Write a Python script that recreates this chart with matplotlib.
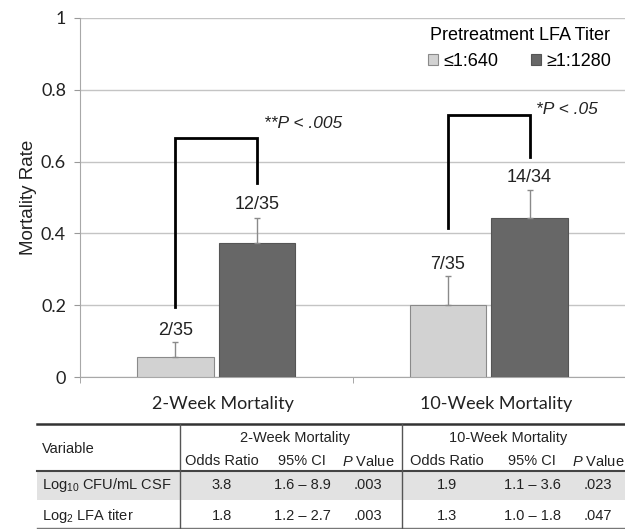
import matplotlib
matplotlib.use("Agg")
from matplotlib import pyplot as plt
from matplotlib.patches import Patch, Rectangle
import matplotlib.transforms as mtransforms
import numpy as np

plt.rcParams['font.family'] = ['Liberation Sans', 'DejaVu Sans']
plt.rcParams['mathtext.fontset'] = 'custom'
plt.rcParams['mathtext.rm'] = 'Liberation Sans'
plt.rcParams['mathtext.it'] = 'Liberation Sans:italic'

# chart data
categories = ['2-Week Mortality', '10-Week Mortality']
series_names = ['\u22641:640', '\u22651:1280']
low_titer = [0.057, 0.200]
high_titer = [0.372, 0.442]
low_err = [0.040, 0.081]
high_err = [0.072, 0.078]
low_labels = ['2/35', '7/35']
high_labels = ['12/35', '14/34']
p_labels = ['**P < .005', '*P < .05']

# table data
table_vars = [r'Log$_{10}$ CFU/mL CSF', r'Log$_{2}$ LFA titer']
or_2wk = ['3.8', '1.8']
ci_2wk = ['1.6 \u2013 8.9', '1.2 \u2013 2.7']
p_2wk = ['.003', '.003']
or_10wk = ['1.9', '1.3']
ci_10wk = ['1.1 \u2013 3.6', '1.0 \u2013 1.8']
p_10wk = ['.023', '.047']

light = '#d2d2d2'
dark = '#676767'

fig = plt.figure(figsize=(6.25, 5.29), dpi=100)

# table layer (pixel coordinates)
tax = fig.add_axes([0, 0, 1, 1], zorder=0)
tax.set_xlim(0, 625)
tax.set_ylim(529, 0)
tax.axis('off')

ax = fig.add_axes([80 / 625, 1 - 377 / 529, 545 / 625, 359 / 529], zorder=1)

x = np.arange(len(categories)) + 0.5
off, w = 0.15, 0.28
ax.bar(x - off, low_titer, w, color=light, edgecolor='#8a8a8a', lw=0.8, zorder=3)
ax.bar(x + off, high_titer, w, color=dark, edgecolor='#555555', lw=0.8, zorder=3)
ax.errorbar(x - off, low_titer, yerr=[np.zeros(2), low_err], fmt='none',
            ecolor='#8a8a8a', elinewidth=1, capsize=2, capthick=1, zorder=4)
ax.errorbar(x + off, high_titer, yerr=[np.zeros(2), high_err], fmt='none',
            ecolor='#8a8a8a', elinewidth=1, capsize=2, capthick=1, zorder=4)

for i in range(len(categories)):
    ax.text(x[i] - off, low_titer[i] + low_err[i] + 0.033, low_labels[i],
            ha='center', va='center', fontsize=13, color='#222222')
    ax.text(x[i] + off, high_titer[i] + high_err[i] + 0.036, high_labels[i],
            ha='center', va='center', fontsize=13, color='#222222')

# significance brackets
brackets = [(0.196, 0.665, 0.539), (0.415, 0.730, 0.614)]
for i, (lo, top, ro) in enumerate(brackets):
    ax.plot([x[i] - off, x[i] - off, x[i] + off, x[i] + off], [lo, top, top, ro],
            color='black', lw=2, zorder=5, solid_joinstyle='miter')
ax.text(x[0] + off + 0.025, 0.705, p_labels[0], style='italic', fontsize=12.5,
        ha='left', va='center', color='#222222')
ax.text(x[1] + off + 0.025, 0.744, p_labels[1], style='italic', fontsize=12.5,
        ha='left', va='center', color='#222222')

ax.set_xlim(0, 2)
ax.set_ylim(0, 1)
ax.set_yticks([0, 0.2, 0.4, 0.6, 0.8, 1])
ax.set_yticklabels(['0', '0.2', '0.4', '0.6', '0.8', '1'])
ax.set_xticks(x)
ax.set_xticklabels(categories)
ax.set_xticks([0, 1, 2], minor=True)
ax.tick_params(axis='x', which='major', length=0, pad=14)
ax.tick_params(axis='x', which='minor', length=4, color='#999999')
ax.tick_params(axis='y', length=4, color='#999999', pad=6)
shift = mtransforms.ScaledTranslation(7 / 100, 0, fig.dpi_scale_trans)
for lab in ax.get_xticklabels():
    lab.set_transform(lab.get_transform() + shift)
for lab in ax.get_xticklabels() + ax.get_yticklabels():
    lab.set_fontfamily('Lato')
    lab.set_fontsize(13)
    lab.set_color('#222222')
ax.grid(axis='y', color='#c4c4c4', lw=1, zorder=0)
for s in ['top', 'right']:
    ax.spines[s].set_visible(False)
for s in ['left', 'bottom']:
    ax.spines[s].set_color('#a8a8a8')
ax.set_ylabel('Mortality Rate', fontsize=13.5, color='#222222', labelpad=3)

handles = [Patch(facecolor=light, edgecolor='#8a8a8a', lw=0.8),
           Patch(facecolor=dark, edgecolor='#555555', lw=0.8)]
leg = ax.legend(handles, series_names, title='Pretreatment LFA Titer', ncol=2,
                loc='upper right', bbox_to_anchor=(1.005, 1.02), frameon=False,
                fontsize=13, title_fontsize=13, handlelength=0.55, handleheight=0.55,
                handletextpad=0.3, columnspacing=1.8)

# table
tax.add_patch(Rectangle((37, 471), 588, 28.5, facecolor='#e2e2e2', edgecolor='none'))
tax.plot([37, 625], [424, 424], color='#333333', lw=1.8)
tax.plot([37, 625], [470.5, 470.5], color='#444444', lw=1.5)
tax.plot([37, 625], [528, 528], color='#777777', lw=1)
tax.plot([179.5, 179.5], [424, 528], color='#555555', lw=1)
tax.plot([402, 402], [424, 528], color='#555555', lw=1)

tfs = 10.5
tax.text(42, 449, 'Variable', fontsize=tfs, ha='left', va='center', color='#222222')
tax.text(295, 438, '2-Week Mortality', fontsize=tfs, ha='center', va='center', color='#222222')
tax.text(508, 438, '10-Week Mortality', fontsize=tfs, ha='center', va='center', color='#222222')
col_x = [222, 302, 368, 447, 532, 598]
sub_heads = ['Odds Ratio', '95% CI', r'$\mathit{P}$ Value'] * 2
for cx, h in zip(col_x, sub_heads):
    tax.text(cx, 461, h, fontsize=tfs, ha='center', va='center', color='#222222')

row_y = [485, 516]
for r in range(len(table_vars)):
    tax.text(42, row_y[r], table_vars[r], fontsize=tfs, ha='left', va='center', color='#222222')
    vals = [or_2wk[r], ci_2wk[r], p_2wk[r], or_10wk[r], ci_10wk[r], p_10wk[r]]
    for cx, v in zip(col_x, vals):
        tax.text(cx, row_y[r], v, fontsize=tfs, ha='center', va='center', color='#222222')

fig.savefig('out.png', dpi=100)
